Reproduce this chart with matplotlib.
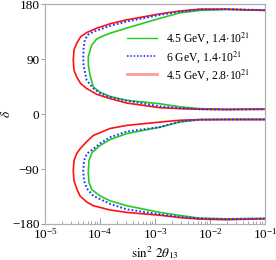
import numpy as np
import matplotlib
matplotlib.use("Agg")
import matplotlib.pyplot as plt
from matplotlib.lines import Line2D
from matplotlib.ticker import FixedLocator, LogLocator, NullFormatter

plt.rcParams["font.family"] = ["Liberation Serif", "DejaVu Serif"]
plt.rcParams["mathtext.fontset"] = "stix"

# contours: sin^2 2theta13 vs delta, upper and lower lobes
# 4.5 GeV, 1.4e21 (green)
green_up_x = [0.1, 0.02, 6.6e-3, 2.85e-3, 1.23e-3, 3.05e-4, 1.52e-4, 1.13e-4, 8.7e-5, 7.06e-5,
              6.12e-5, 6.16e-5, 6.58e-5, 7.55e-5, 1e-4, 1.52e-4, 3.05e-4, 1.23e-3, 2.85e-3,
              6.6e-3, 0.02, 0.1]
green_up_d = [170, 171.5, 170, 166, 157, 141, 132.5, 128, 123, 113,
              94, 80, 64, 44.6, 36, 29, 22.7, 17, 12,
              9, 8, 8.5]
green_lo_x = [0.1, 0.02, 6.6e-3, 2.85e-3, 1.23e-3, 3.05e-4, 1.52e-4, 1e-4, 7.16e-5, 6.3e-5,
              6.12e-5, 6.3e-5, 7.16e-5, 1e-4, 1.52e-4, 3.05e-4, 1.23e-3, 2.85e-3, 6.6e-3,
              0.02, 0.1]
green_lo_d = [-8.5, -8.5, -9, -13, -21.3, -32, -41.6, -51.5, -63, -76,
              -95.5, -112, -124, -134, -142, -150, -161, -166, -170.5,
              -171.5, -171]

# 6 GeV, 1.4e21 (blue, dotted)
blue_up_x = [0.1, 0.02, 6.6e-3, 2.85e-3, 1.23e-3, 3.05e-4, 1.52e-4, 7.55e-5, 6.05e-5, 5.3e-5,
             5.04e-5, 4.97e-5, 5.04e-5, 5.73e-5, 7.55e-5, 1e-4, 1.52e-4, 3.05e-4, 1.23e-3,
             2.85e-3, 6.6e-3, 0.02, 0.1]
blue_up_d = [170.5, 172, 171.5, 168, 162.7, 151.7, 144.6, 135, 130, 121.5,
             108, 94, 78.7, 55.6, 42.4, 34, 28, 22, 12.8,
             10, 8, 7.5, 8]
blue_lo_x = [0.1, 0.02, 6.6e-3, 2.85e-3, 1.23e-3, 3.05e-4, 1.52e-4, 1e-4, 7.55e-5, 5.8e-5,
             5.12e-5, 4.97e-5, 5.12e-5, 5.8e-5, 7.55e-5, 1.52e-4, 3.05e-4, 1.23e-3, 2.85e-3,
             6.6e-3, 0.02, 0.1]
blue_lo_d = [-8.5, -8.5, -9, -12, -21.3, -28.5, -38, -48, -57, -64.7,
             -76, -92.7, -109, -122, -134, -147, -156, -164, -168.5,
             -171, -172, -171]

# 4.5 GeV, 2.8e21 (red)
red_up_x = [0.1, 0.02, 6.6e-3, 2.85e-3, 1.23e-3, 3.05e-4, 1.52e-4, 8.7e-5, 5.73e-5, 4.46e-5,
            3.77e-5, 3.37e-5, 3.27e-5, 3.37e-5, 3.77e-5, 4.46e-5, 5.73e-5, 8.7e-5, 1.52e-4,
            3.05e-4, 1.23e-3, 2.85e-3, 6.6e-3, 0.02, 0.1]
red_up_d = [170, 172, 172, 169, 164.3, 154.5, 148, 140.8, 133.6, 127,
            116, 105, 88.6, 72, 61, 50, 42, 32.5, 25.5,
            18.2, 10.6, 9, 8, 7.5, 8]
red_lo_x = [0.1, 0.02, 6.6e-3, 2.85e-3, 1.23e-3, 3.05e-4, 1.52e-4, 7.55e-5, 5.73e-5, 4.33e-5,
            3.77e-5, 3.37e-5, 3.27e-5, 3.37e-5, 3.77e-5, 4.33e-5, 5.73e-5, 7.55e-5, 1.52e-4,
            3.05e-4, 1.23e-3, 2.85e-3, 6.6e-3, 0.02, 0.1]
red_lo_d = [-9, -9, -9, -10, -13, -18.5, -23.5, -35, -45, -57,
            -64.7, -76, -92.7, -109, -122, -134, -144, -150, -157,
            -161, -165.7, -169.5, -172, -173, -171.5]

labels = [r"4.5 GeV, 1.4$\cdot$10$^{21}$",
          r"6 GeV, 1.4$\cdot$10$^{21}$",
          r"4.5 GeV, 2.8$\cdot$10$^{21}$"]
yticks = [-180, -90, 0, 90, 180]
ytick_labels = ["\u2212180", "\u221290", "0", "90", "180"]

fig = plt.figure(figsize=(2.76, 2.60), dpi=100)
ax = fig.add_axes([0.163, 0.1385, 0.797, 0.845])

ax.plot(green_up_x, green_up_d, color="#22cc22", lw=1.2)
ax.plot(green_lo_x, green_lo_d, color="#22cc22", lw=1.2)
ax.plot(red_up_x, red_up_d, color="#ff1111", lw=1.2)
ax.plot(red_lo_x, red_lo_d, color="#ff1111", lw=1.2)
ax.plot(blue_up_x, blue_up_d, color="#2233ff", lw=1.4, ls=(0, (0.9, 1.1)))
ax.plot(blue_lo_x, blue_lo_d, color="#2233ff", lw=1.4, ls=(0, (0.9, 1.1)))

ax.set_xscale("log")
ax.set_xlim(1e-5, 1e-1)
ax.set_ylim(-180, 180)
ax.yaxis.set_major_locator(FixedLocator(yticks))
ax.set_yticklabels(ytick_labels)
ax.xaxis.set_major_locator(LogLocator(base=10, numticks=10))
ax.xaxis.set_minor_locator(LogLocator(base=10, subs=np.arange(2, 10), numticks=20))
ax.xaxis.set_minor_formatter(NullFormatter())

for s in ax.spines.values():
    s.set_color("#b0b0b0")
    s.set_linewidth(0.9)
ax.tick_params(axis="y", direction="out", length=3, width=0.7, color="#999999",
               labelsize=9.5, pad=1)
ax.tick_params(axis="x", which="major", direction="in", length=4, width=0.7,
               color="#999999", labelsize=9.5, pad=2, top=False)
ax.tick_params(axis="x", which="minor", direction="in", length=2, width=0.6,
               color="#999999", top=False)

ax.set_xlabel(r"$\sin^2\, 2\theta_{13}$", fontsize=9.5)
ax.xaxis.set_label_coords(0.5, -0.09)
ax.set_ylabel(r"$\delta$", fontsize=9.5)
ax.yaxis.set_label_coords(-0.145, 0.5)

handles = [Line2D([], [], color="#22cc22", lw=1.0),
           Line2D([], [], color="#2233ff", lw=1.2, ls=(0, (0.9, 1.1))),
           Line2D([], [], color="#ff9999", lw=2.0)]
ax.legend(handles, labels, loc="upper left", bbox_to_anchor=(0.373, 0.88),
          frameon=False, fontsize=8.4, handlelength=2.6, handletextpad=0.75,
          labelspacing=0.2, borderpad=0, borderaxespad=0)

fig.savefig("out.png", dpi=100)
